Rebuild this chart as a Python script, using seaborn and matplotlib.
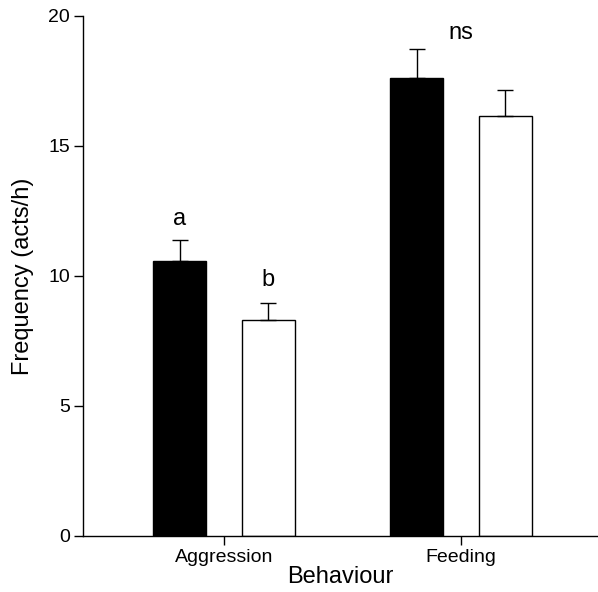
import pandas as pd
import numpy as np
import matplotlib
matplotlib.use("Agg")
import matplotlib.pyplot as plt
import seaborn as sns

# data
behaviours = ["Aggression", "Feeding"]
groups = ["Group 1", "Group 2"]
means_g1 = [10.57, 17.62]
means_g2 = [8.30, 16.14]
sem_g1 = [0.80, 1.12]
sem_g2 = [0.66, 1.02]
labels_g1 = ["a", "ns"]
labels_g2 = ["b", ""]

df = pd.DataFrame({
    "Behaviour": behaviours * 2,
    "Group": [groups[0]] * 2 + [groups[1]] * 2,
    "Frequency": means_g1 + means_g2,
    "SEM": sem_g1 + sem_g2,
})

sns.set_theme(style="ticks")
plt.rcParams["font.family"] = ["Liberation Sans", "DejaVu Sans"]
plt.rcParams.update({"text.color": "black", "axes.labelcolor": "black",
                     "xtick.color": "black", "ytick.color": "black"})

fig = plt.figure(figsize=(5.98, 5.92), dpi=100)
ax = fig.add_axes([83 / 598, 1 - 536 / 592, 1 - 83 / 598, (536 - 16) / 592])

sns.barplot(data=df, x="Behaviour", y="Frequency", hue="Group", order=behaviours,
            hue_order=groups, palette=["black", "white"], edgecolor="black",
            linewidth=1, width=0.744, gap=0.4, errorbar=None, legend=False, ax=ax)

# upper-only error bars, placed on the seaborn bar patches
bars = sorted(ax.patches, key=lambda p: p.get_x())
heights = [p.get_height() for p in bars]
order_sem = [sem_g1[0], sem_g2[0], sem_g1[1], sem_g2[1]]
centers = [p.get_x() + p.get_width() / 2 for p in bars]
ax.errorbar(centers, heights, yerr=[np.zeros(4), order_sem], fmt="none",
            ecolor="black", elinewidth=1, capsize=5.5, capthick=1, zorder=1)

# significance letters
ax.text(centers[0], 12.2, labels_g1[0], ha="center", va="center", fontsize=17)
ax.text(centers[1], 9.85, labels_g2[0], ha="center", va="center", fontsize=17)
ax.text(1, 19.35, labels_g1[1], ha="center", va="center", fontsize=17)

ax.set_ylim(0, 20)
ax.set_xlim(-0.595, 1.578)
ax.set_yticks([0, 5, 10, 15, 20])
ax.set_xlabel("Behaviour", fontsize=17, labelpad=0)
ax.set_ylabel("Frequency (acts/h)", fontsize=17, labelpad=10)
ax.tick_params(axis="both", labelsize=14, length=6.5, width=1, color="black",
               labelcolor="black", direction="out", pad=3)
for s in ["left", "bottom"]:
    ax.spines[s].set_color("black")
    ax.spines[s].set_linewidth(1)
sns.despine(ax=ax)
ax.spines["bottom"].set_clip_on(False)

fig.savefig("out.png", dpi=100)
